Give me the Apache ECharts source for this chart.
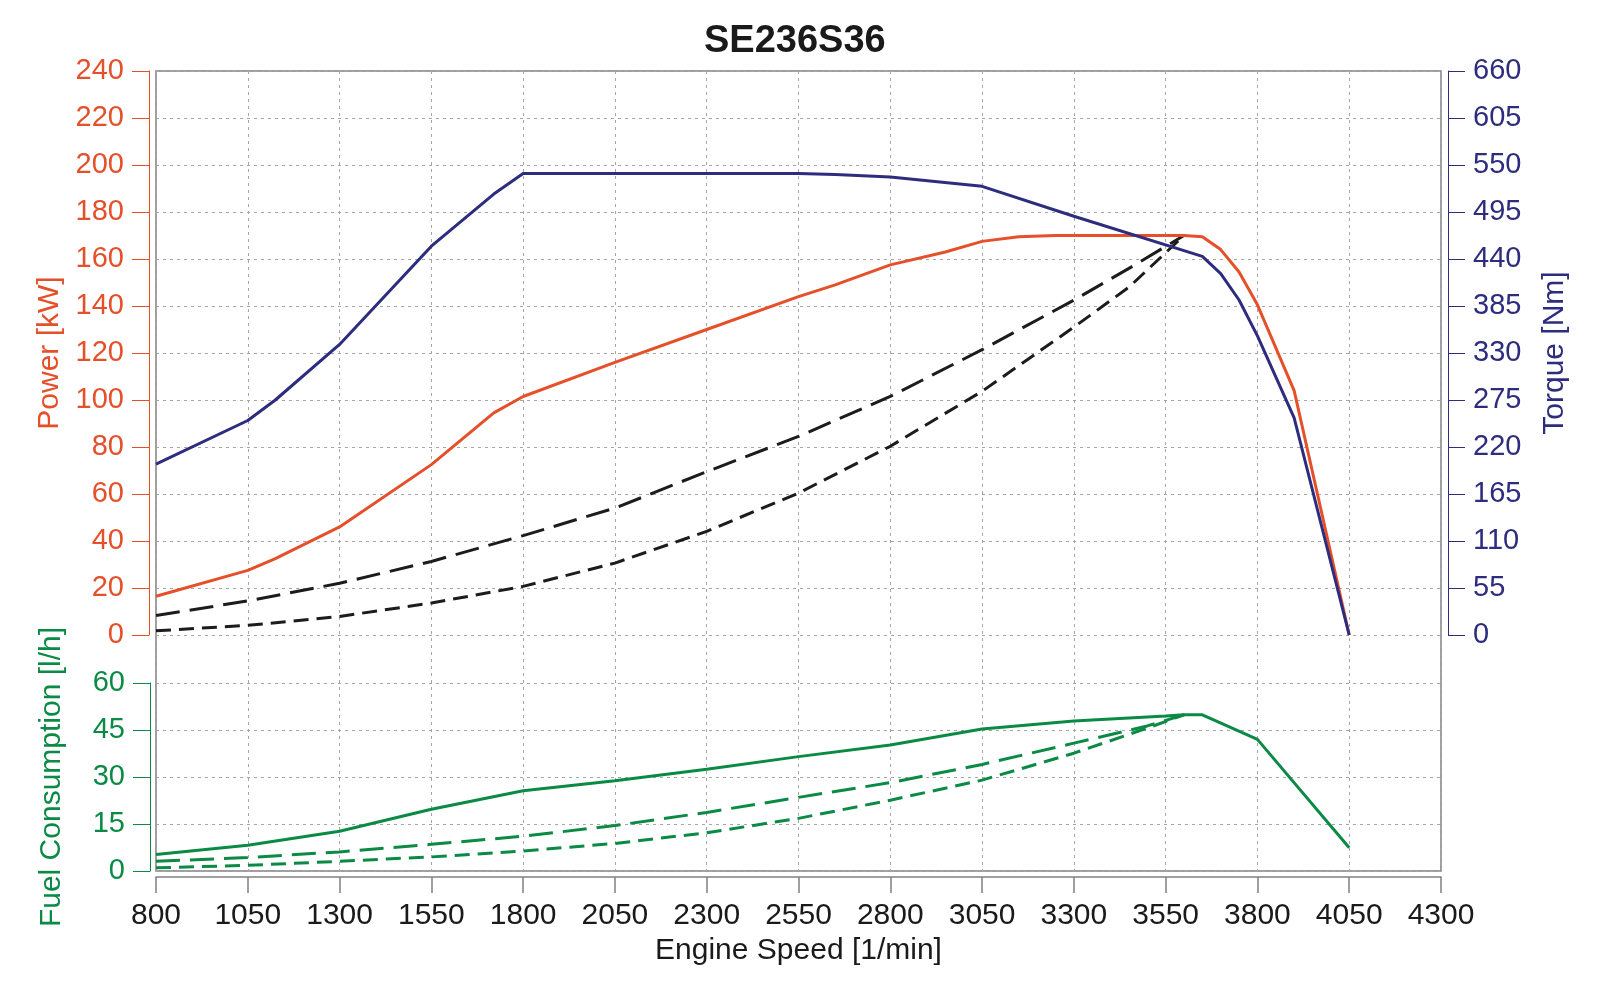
<!DOCTYPE html>
<html>
<head>
<meta charset="utf-8">
<title>SE236S36</title>
<script src="https://cdn.jsdelivr.net/npm/echarts@6/dist/echarts.min.js"></script>
<style>
html,body{margin:0;padding:0;background:#fff;}
#chart{width:1612px;height:984px;}
</style>
</head>
<body>
<div id="chart"></div>
<script>
// engine speed ticks [1/min]
var speedTicks = [800,1050,1300,1550,1800,2050,2300,2550,2800,3050,3300,3550,3800,4050,4300];

// full load torque [Nm]
var torqueRpm = [800,1050,1125,1300,1550,1720,1800,2550,2650,2800,3050,3300,3650,3700,3750,3800,3900,4050];
var torqueNm  = [200,251,275,340,455,516,540,540,539,536,525,490,443,423,392,350,254,0];

// full load power [kW]
var powerRpm = [800,1050,1125,1300,1550,1720,1800,2050,2300,2550,2650,2800,2950,3050,3150,3250,3600,3650,3700,3750,3800,3900,4050];
var powerKw  = [16.5,27.5,32.5,46,72.5,94.5,101.5,116,130,144,149,157.5,163,167.5,169.5,170,170,169.5,164,154.5,140.5,104,0];

// propeller curves [kW]
var propRpm   = [800,1050,1300,1550,1800,2050,2300,2550,2800,3050,3300,3450,3600];
var propKwA   = [8.3,14.5,22,31.3,42.3,54,69.5,84.5,101.5,121.4,142.5,156,170];
var propKwB   = [1.8,4.1,7.9,13.6,20.7,30.6,44.1,60.4,80.3,103.7,131,148,170];

// fuel consumption [l/h]
var fuelRpm   = [800,1050,1300,1550,1800,2050,2300,2550,2800,3050,3300,3550,3600,3650,3800,4050];
var fuelFull  = [5.25,8.2,12.7,19.7,25.6,28.8,32.5,36.5,40.2,45.3,47.9,49.5,49.85,49.85,42,7.4];
var fuelPropRpm = [800,1050,1300,1550,1800,2050,2300,2550,2800,3050,3300,3500,3600];
var fuelPropA = [3.1,4.3,6.1,8.5,11.1,14.5,18.7,23.5,28.2,34,40.8,46.3,49.85];
var fuelPropB = [1.0,1.8,3.1,4.5,6.4,8.8,12.2,16.8,22.6,29,37.6,45.6,49.85];

var orange = '#e4502a', navy = '#2e2c7e', green = '#0a8a45', black = '#1c1c1c';
var font = '"Liberation Sans", Arial, sans-serif';
var gridColor = '#a6a6a6';

pairs = function(xs, ys){
	var out = [];
	for(var i=0;i<xs.length;i++)
	{
		out.push([xs[i], ys[i]]);
	}
	return out;
}

line = function(xi, yi, xs, ys, color, dash){
	return {
		type: 'line',
		xAxisIndex: xi,
		yAxisIndex: yi,
		data: pairs(xs, ys),
		showSymbol: false,
		symbol: 'none',
		lineStyle: {color: color, width: 3, type: dash || 'solid'},
		itemStyle: {color: color}
	};
}

sideAxis = function(grid, min, max, step, pos, offset, name, gap, color){
	return {
		gridIndex: grid,
		type: 'value',
		min: min, max: max, interval: step,
		position: pos,
		offset: offset,
		name: name,
		nameLocation: 'middle',
		nameGap: gap,
		nameTextStyle: {color: color, fontSize: 30, fontFamily: font},
		axisLine: {show: true, onZero: false, lineStyle: {color: color, width: 1}},
		axisTick: {show: true, inside: false, length: 17, lineStyle: {color: color, width: 1}},
		axisLabel: {color: color, fontSize: 29, fontFamily: font, margin: 25},
		splitLine: {show: false}
	};
}

var dom = document.getElementById("chart");
var myChart = echarts.init(dom);

var powerAxis = sideAxis(1, 0, 240, 20, 'left', 7, 'Power [kW]', 82, orange);
powerAxis.splitLine = {show: true, lineStyle: {color: gridColor, type: [3,4], width: 1}};
var fuelAxis = sideAxis(2, 0, 60, 15, 'left', 6, 'Fuel Consumption [l/h]', 83, green);
fuelAxis.splitLine = {show: true, lineStyle: {color: gridColor, type: [3,4], width: 1}};

option = {
	animation: false,
	backgroundColor: '#fff',
	title: {
		text: 'SE236S36',
		left: 704,
		top: 23,
		padding: 0,
		textStyle: {fontSize: 38, fontWeight: 'bold', color: '#1a1a1a', fontFamily: font}
	},
	grid: [
		{left: 156, right: 171, top: 71, height: 800, show: true, borderColor: '#808080', borderWidth: 1.5},
		{left: 156, right: 171, top: 71, height: 564},
		{left: 156, right: 171, top: 683, height: 188}
	],
	xAxis: [
		{
			gridIndex: 0,
			type: 'value',
			min: 800, max: 4300,
			offset: 6,
			name: 'Engine Speed [1/min]',
			nameLocation: 'middle',
			nameGap: 58,
			nameTextStyle: {color: '#1a1a1a', fontSize: 30, fontFamily: font},
			axisLine: {show: true, onZero: false, lineStyle: {color: '#808080', width: 1.5}},
			axisTick: {show: true, customValues: speedTicks, length: 16, lineStyle: {color: '#808080', width: 1.5}},
			axisLabel: {
				customValues: speedTicks,
				color: '#1a1a1a', fontSize: 30, fontFamily: font, margin: 24,
				formatter: function(v){ return String(v); }
			},
			splitLine: {show: true, lineStyle: {color: gridColor, type: [3,4], width: 1}}
		},
		{gridIndex: 1, type: 'value', min: 800, max: 4300, show: false},
		{gridIndex: 2, type: 'value', min: 800, max: 4300, show: false}
	],
	yAxis: [
		{gridIndex: 0, type: 'value', min: 0, max: 1, show: false},
		powerAxis,
		sideAxis(1, 0, 660, 55, 'right', 7, 'Torque [Nm]', 92, navy),
		fuelAxis
	],
	series: [
		line(1, 1, propRpm, propKwA, black, [24,10]),
		line(1, 1, propRpm, propKwB, black, [15,8]),
		line(1, 1, powerRpm, powerKw, orange),
		line(1, 2, torqueRpm, torqueNm, navy),
		line(2, 3, fuelRpm, fuelFull, green),
		line(2, 3, fuelPropRpm, fuelPropA, green, [24,10]),
		line(2, 3, fuelPropRpm, fuelPropB, green, [15,8])
	]
};

myChart.setOption(option, true);
</script>
</body>
</html>
